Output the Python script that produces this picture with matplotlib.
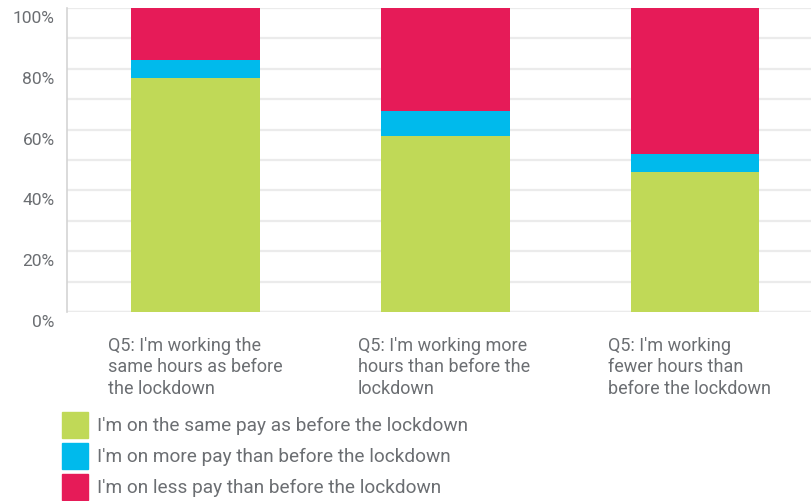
import matplotlib
matplotlib.use("Agg")
import matplotlib.pyplot as plt
import matplotlib.transforms as mtransforms
import numpy as np
from matplotlib.patches import Rectangle

categories = [
    "Q5: I'm working the\nsame hours as before\nthe lockdown",
    "Q5: I'm working more\nhours than before the\nlockdown",
    "Q5: I'm working\nfewer hours than\nbefore the lockdown",
]
series_names = [
    "I'm on the same pay as before the lockdown",
    "I'm on more pay than before the lockdown",
    "I'm on less pay than before the lockdown",
]
same_pay = [77, 58, 46]
more_pay = [6, 8, 6]
less_pay = [17, 34, 48]
colors = ["#c0d957", "#00baec", "#e61b58"]
y_ticks = [0, 20, 40, 60, 80, 100]
y_tick_labels = ["0%", "20%", "40%", "60%", "80%", "100%"]

plt.rcParams["font.family"] = ["Roboto", "DejaVu Sans"]
text_color = "#6b6e72"

fig = plt.figure(figsize=(8.11, 5.01), dpi=100)
ax = fig.add_axes([67 / 811, 1 - 312 / 501, 1 - 67 / 811, 304 / 501])

x = np.arange(len(categories))
width = 0.516
bottom = np.zeros(len(categories))
for vals, col in zip([same_pay, more_pay, less_pay], colors):
    ax.bar(x, vals, width, bottom=bottom, color=col, zorder=3, linewidth=0)
    bottom += np.array(vals)

ax.set_xlim(-0.5145, 2.4645)
ax.set_ylim(0, 100)
ax.set_yticks(y_ticks)
ax.set_yticklabels(y_tick_labels)
ax.set_yticks(np.arange(10, 100, 10), minor=True)
ax.tick_params(axis="y", which="both", length=0, pad=9, labelsize=12.5, labelcolor=text_color)
# tick labels sit a little below their gridlines
shift = mtransforms.ScaledTranslation(0, -9 / 100, fig.dpi_scale_trans)
for lab in ax.get_yticklabels():
    lab.set_transform(lab.get_transform() + shift)
ax.grid(axis="y", which="both", color="#ebebeb", linewidth=1.6, zorder=0)
ax.set_xticks([])
for side in ["top", "right", "bottom"]:
    ax.spines[side].set_visible(False)
ax.spines["left"].set_color("#d4d4d4")
ax.spines["left"].set_linewidth(1.2)
ax.axhline(0, color="#e0e0e0", linewidth=1.6, zorder=1)

# category labels, left-aligned under each bar
for xi, label in zip(x, categories):
    ax.annotate(label, xy=(xi - 0.35, 0), xycoords="data",
                xytext=(0, -18), textcoords="offset points",
                ha="left", va="top", fontsize=13, color=text_color,
                linespacing=1.25, annotation_clip=False)

# legend drawn as squares with text
for i, (name, col) in enumerate(zip(series_names, colors)):
    y_top = 412 + i * 31
    fig.patches.append(Rectangle((62 / 811, 1 - (y_top + 26) / 501), 26 / 811, 26 / 501,
                                 transform=fig.transFigure, color=col, figure=fig))
    fig.text(97 / 811, 1 - (y_top + 14) / 501, name, ha="left", va="center",
             fontsize=13.7, color=text_color)

fig.savefig("out.png", dpi=100)
